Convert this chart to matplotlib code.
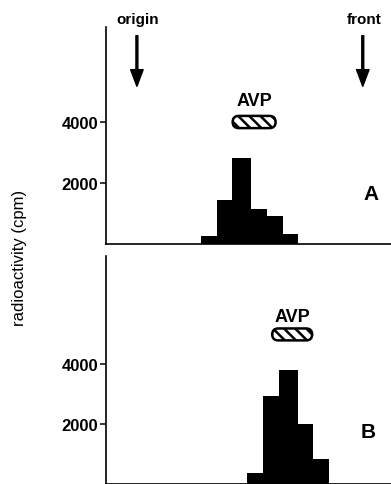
import numpy as np
import matplotlib
matplotlib.use("Agg")
import matplotlib.pyplot as plt
from matplotlib.patches import FancyBboxPatch

plt.rcParams['font.family'] = ['Liberation Sans', 'DejaVu Sans']
plt.rcParams['hatch.linewidth'] = 1.8

# migration distance expressed as Rf (origin = 0, front = 1)
top_edges = [0.282, 0.353, 0.422, 0.504, 0.575, 0.646, 0.715]
top_cpm = [250, 1440, 2830, 1140, 930, 340]
bot_edges = [0.486, 0.557, 0.630, 0.714, 0.781, 0.849]
bot_cpm = [360, 2930, 3820, 1990, 830]

# AVP standard position (Rf start, Rf end, cpm level)
avp_top = (0.397, 0.641, 4000)
avp_bot = (0.572, 0.803, 5000)

yticks = [2000, 4000]
ytick_labels = ['2000', '4000']

fig = plt.figure(figsize=(3.91, 4.85), dpi=100)
ax1 = fig.add_axes([0.271, 0.4948, 0.729, 0.4475])
ax2 = fig.add_axes([0.271, 0.0008, 0.729, 0.4699])


def style_axis(ax, ytop):
    ax.set_xlim(-0.137, 1.125)
    ax.set_ylim(0, ytop)
    for s in ['top', 'right']:
        ax.spines[s].set_visible(False)
    for s in ['left', 'bottom']:
        ax.spines[s].set_linewidth(1.2)
    ax.set_xticks([])
    ax.set_yticks(yticks)
    ax.set_yticklabels(ytick_labels, fontsize=12, fontweight='bold')
    ax.tick_params(axis='y', length=4.5, width=1.1, pad=1)


def draw_bars(ax, edges, cpm):
    edges = np.array(edges)
    ax.bar(edges[:-1], cpm, width=np.diff(edges), align='edge',
           color='black', edgecolor='none')


def draw_avp(ax, avp, aspect, text_y):
    x0, x1, y = avp
    h = 0.2 * 2000  # pill height in cpm
    r = 0.027
    pill = FancyBboxPatch((x0 + r, y - h / 2), (x1 - x0) - 2 * r, h,
                          boxstyle="round,pad=0,rounding_size=%f" % r,
                          mutation_aspect=aspect, facecolor='white',
                          edgecolor='black', linewidth=1.8, hatch='\\\\\\')
    ax.add_patch(pill)
    ax.text((x0 + x1) / 2, text_y, 'AVP', ha='center', va='center',
            fontsize=13, fontweight='bold')


# panel A
style_axis(ax1, 7115)
draw_bars(ax1, top_edges, top_cpm)
draw_avp(ax1, avp_top, 7400, 4700)
ax1.text(1.037, 1672, 'A', ha='center', va='center', fontsize=15,
         fontweight='heavy')

for xpos, lab in [(0.0, 'origin'), (1.0, 'front')]:
    ax1.annotate('', xy=(xpos, 5170), xytext=(xpos, 6830),
                 arrowprops=dict(facecolor='black', edgecolor='black',
                                 width=1.4, headwidth=9, headlength=12),
                 annotation_clip=False)
    ax1.text(xpos + 0.005, 7377, lab, ha='center', va='center',
             fontsize=11, fontweight='bold', clip_on=False)

# panel B
style_axis(ax2, 7638)
draw_bars(ax2, bot_edges, bot_cpm)
draw_avp(ax2, avp_bot, 7560, 5607)
ax2.text(1.023, 1742, 'B', ha='center', va='center', fontsize=15,
         fontweight='heavy')

fig.text(0.049, 1 - 258 / 485, 'radioactivity (cpm)', rotation=90,
         ha='center', va='center', fontsize=12)

fig.savefig('out.png', dpi=100)
